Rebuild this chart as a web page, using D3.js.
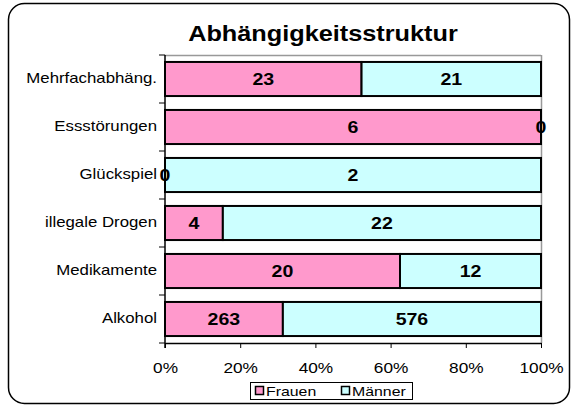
<!DOCTYPE html>
<html>
<head>
<meta charset="utf-8">
<script src="https://cdn.jsdelivr.net/npm/d3@7"></script>
<style>
body { margin: 0; background: #fff; }
text { font-family: "Liberation Sans", Arial, sans-serif; }
/* the original rendering is slightly stretched sideways */
.wide-c { transform: scaleX(1.15); transform-box: fill-box; transform-origin: center; }
.wide-r { transform: scaleX(1.2); transform-box: fill-box; transform-origin: right center; }
.wide-l { transform: scaleX(1.22); transform-box: fill-box; transform-origin: left center; }
</style>
</head>
<body>
<div id="chart"></div>
<script>
var width = 578;
var height = 407;

var categories = ["Mehrfachabhäng.", "Essstörungen", "Glückspiel", "illegale Drogen", "Medikamente", "Alkohol"];
var frauen = [23, 6, 0, 4, 20, 263];
var maenner = [21, 0, 2, 22, 12, 576];
var seriesNames = ["Frauen", "Männer"];
var colors = ["#FF99CC", "#CCFFFF"];
var tickValues = [0, 0.2, 0.4, 0.6, 0.8, 1];

// plot area (named to avoid clashing with window.top)
var plotLeft = 165, plotRight = 541, plotTop = 55, plotBottom = 343;

var svg = d3.select("#chart")
    .append("svg")
    .attr("width", width)
    .attr("height", height);

// outer frame
svg.append("rect")
    .attr("x", 8.5).attr("y", 3.5)
    .attr("width", 561).attr("height", 400)
    .attr("rx", 16).attr("ry", 16)
    .attr("fill", "none")
    .attr("stroke", "#000")
    .attr("stroke-width", 1.5);

svg.append("text")
    .attr("class", "wide-c")
    .attr("x", 323).attr("y", 41)
    .attr("text-anchor", "middle")
    .style("font-size", "22px")
    .style("font-weight", "bold")
    .text("Abhängigkeitsstruktur");

var x = d3.scaleLinear().domain([0, 1]).range([plotLeft, plotRight]);
var y = d3.scaleBand().domain(categories).range([plotTop, plotBottom]).paddingInner(0.29).paddingOuter(0.145);

// table of rows built from the arrays
var rows = categories.map(function(c, i){
    return { cat: c, values: [frauen[i], maenner[i]] };
});

// plot frame (gray top and right)
svg.append("line").attr("x1", plotLeft).attr("x2", plotRight).attr("y1", plotTop + 0.5).attr("y2", plotTop + 0.5)
    .attr("stroke", "#999").attr("stroke-width", 1.5);
svg.append("line").attr("x1", plotRight + 0.5).attr("x2", plotRight + 0.5).attr("y1", plotTop).attr("y2", plotBottom)
    .attr("stroke", "#999").attr("stroke-width", 1.5);

var g = svg.append("g");

rows.forEach(function(r){
    var total = d3.sum(r.values);
    var acc = 0;
    r.values.forEach(function(v, j){
        var x0 = x(acc / total);
        var x1 = x((acc + v) / total);
        g.append("rect")
            .attr("x", x0).attr("y", y(r.cat))
            .attr("width", x1 - x0).attr("height", y.bandwidth())
            .attr("fill", colors[j])
            .attr("stroke", "#000")
            .attr("stroke-width", 2);
        acc += v;
    });
});

// value labels
rows.forEach(function(r){
    var total = d3.sum(r.values);
    var acc = 0;
    r.values.forEach(function(v, j){
        var cx = x((acc + v / 2) / total);
        g.append("text")
            .attr("class", "wide-c")
            .attr("x", cx)
            .attr("y", y(r.cat) + y.bandwidth() / 2)
            .attr("dy", "0.36em")
            .attr("text-anchor", "middle")
            .style("font-size", "17px")
            .style("font-weight", "bold")
            .text(v);
        acc += v;
    });
});

// y axis
var yAxis = svg.append("g")
    .attr("transform", "translate(" + plotLeft + ",0)")
    .call(d3.axisLeft(y).tickSize(0).tickPadding(8));
yAxis.select(".domain").remove();
yAxis.selectAll("text").attr("class", "wide-r").style("font-size", "14px").attr("fill", "#000");

svg.append("line").attr("x1", plotLeft).attr("x2", plotLeft).attr("y1", plotTop).attr("y2", plotBottom + 5)
    .attr("stroke", "#000").attr("stroke-width", 1.5);
var bounds = categories.map(function(c){ return y(c) - y.step() * y.paddingInner() / 2; });
bounds.push(plotBottom);
svg.selectAll(".ytick")
    .data(bounds)
    .enter().append("line")
    .attr("class", "ytick")
    .attr("x1", plotLeft - 6).attr("x2", plotLeft)
    .attr("y1", function(d){ return d; })
    .attr("y2", function(d){ return d; })
    .attr("stroke", "#000");

// x axis
var xAxis = svg.append("g")
    .attr("transform", "translate(0," + plotBottom + ")")
    .call(d3.axisBottom(x).tickValues(tickValues).tickFormat(d3.format(".0%")).tickSize(5).tickPadding(14).tickSizeOuter(0));
xAxis.select(".domain").attr("stroke-width", 1.5);
xAxis.selectAll("text").attr("class", "wide-c").style("font-size", "15px").attr("fill", "#000");

// legend
var legend = svg.append("g");
legend.append("rect")
    .attr("x", 250.5).attr("y", 382.5)
    .attr("width", 162).attr("height", 17)
    .attr("fill", "#fff").attr("stroke", "#000");
var legX = [255, 341];
seriesNames.forEach(function(n, i){
    legend.append("rect")
        .attr("x", legX[i] + 0.5).attr("y", 386.5)
        .attr("width", 8).attr("height", 8)
        .attr("fill", colors[i]).attr("stroke", "#000").attr("stroke-width", 1.5);
    legend.append("text")
        .attr("class", "wide-l")
        .attr("x", legX[i] + 11).attr("y", 396)
        .style("font-size", "13px")
        .text(n);
});
</script>
</body>
</html>
